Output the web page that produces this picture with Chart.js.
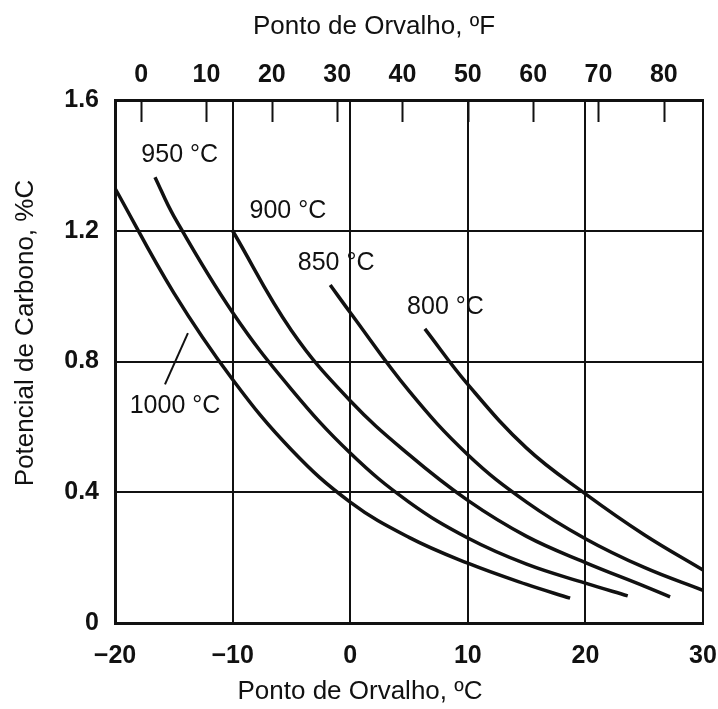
<!DOCTYPE html>
<html>
<head>
<meta charset="utf-8">
<script src="https://cdn.jsdelivr.net/npm/chart.js@4/dist/chart.umd.min.js"></script>
<style>
  body { margin: 0; background: #fff; }
  #wrap { width: 718px; height: 709px; position: relative; }
</style>
</head>
<body>
<div id="wrap"><canvas id="chart"></canvas></div>
<script>
// dew point (°C) and carbon potential (%C)
const dew1000 = [-20, -15, -10, -5, 0, 5, 10, 15, 18.7];
const cp1000 = [1.33, 1.01, 0.745, 0.53, 0.37, 0.262, 0.183, 0.118, 0.076];
const dew950 = [-16.6, -15, -10, -5, 0, 5, 10, 15, 20, 23.6];
const cp950 = [1.364, 1.245, 0.95, 0.715, 0.52, 0.37, 0.26, 0.18, 0.122, 0.083];
const dew900 = [-10, -5, 0, 5, 10, 15, 20, 25, 27.2];
const cp900 = [1.2, 0.895, 0.68, 0.515, 0.375, 0.265, 0.185, 0.113, 0.08];
const dew850 = [-1.7, 0, 5, 10, 15, 20, 25, 30];
const cp850 = [1.034, 0.95, 0.71, 0.515, 0.37, 0.258, 0.17, 0.1];
const dew800 = [6.35, 10, 15, 20, 25, 30];
const cp800 = [0.9, 0.73, 0.535, 0.395, 0.27, 0.162];

const celsiusTicks = [-20, -10, 0, 10, 20, 30];
const fahrenheitTicks = [0, 10, 20, 30, 40, 50, 60, 70, 80];
const carbonTicks = [0, 0.4, 0.8, 1.2, 1.6];

const curves = [
  { label: "1000 °C", x: dew1000, y: cp1000 },
  { label: "950 °C", x: dew950, y: cp950 },
  { label: "900 °C", x: dew900, y: cp900 },
  { label: "850 °C", x: dew850, y: cp850 },
  { label: "800 °C", x: dew800, y: cp800 },
];

const INK = "#111";
const FONT = '"Liberation Sans", Arial, sans-serif';
Chart.defaults.font.family = FONT;
Chart.defaults.color = INK;

const cToF = (c) => c * 9 / 5 + 32;

// where each curve's name sits, in chart units
const curveNotes = [
  { text: "950 °C", x: -14.5, y: 1.43 },
  { text: "900 °C", x: -5.3, y: 1.26 },
  { text: "850 °C", x: -1.2, y: 1.10 },
  { text: "800 °C", x: 8.1, y: 0.965 },
  { text: "1000 °C", x: -14.9, y: 0.665 },
];

const decor = {
  id: "decor",
  afterDraw(chart) {
    const { ctx, chartArea, scales } = chart;
    const xs = scales.x, ys = scales.y, xf = scales.x2;
    ctx.save();
    ctx.strokeStyle = INK;
    ctx.lineWidth = 2;
    // short inward ticks for the °F scale
    fahrenheitTicks.forEach((f) => {
      const px = Math.round(xf.getPixelForValue(f)) + 0.5;
      ctx.beginPath();
      ctx.moveTo(px, chartArea.top);
      ctx.lineTo(px, chartArea.top + 22);
      ctx.stroke();
    });
    // leader line to the 1000 °C curve
    ctx.beginPath();
    ctx.moveTo(xs.getPixelForValue(-13.8), ys.getPixelForValue(0.887));
    ctx.lineTo(xs.getPixelForValue(-15.75), ys.getPixelForValue(0.73));
    ctx.stroke();

    ctx.fillStyle = INK;
    ctx.textAlign = "center";
    ctx.textBaseline = "middle";
    ctx.font = "25px " + FONT;
    curveNotes.forEach((n) => {
      ctx.fillText(n.text, xs.getPixelForValue(n.x), ys.getPixelForValue(n.y));
    });

    // axis titles
    ctx.font = "26px " + FONT;
    ctx.fillText("Ponto de Orvalho, ºF", 374, 27);
    ctx.fillText("Ponto de Orvalho, ºC", 360, 692);
    ctx.translate(26, 333);
    ctx.rotate(-Math.PI / 2);
    ctx.fillText("Potencial de Carbono, %C", 0, 0);
    ctx.restore();
  },
};

const noSidePad = (s) => { s.paddingLeft = 0; s.paddingRight = 0; };

new Chart(document.getElementById("chart"), {
  type: "line",
  data: {
    datasets: curves.map((c) => ({
      label: c.label,
      data: c.x.map((v, i) => ({ x: v, y: c.y[i] })),
      borderColor: INK,
      borderWidth: 3.5,
      pointRadius: 0,
      tension: 0.4,
      fill: false,
    })),
  },
  options: {
    responsive: true,
    maintainAspectRatio: false,
    animation: false,
    layout: { padding: { left: 0, right: 15, top: 0, bottom: 0 } },
    plugins: { legend: { display: false }, tooltip: { enabled: false } },
    scales: {
      x: {
        type: "linear",
        position: "bottom",
        min: celsiusTicks[0],
        max: celsiusTicks[celsiusTicks.length - 1],
        afterBuildTicks: (s) => { s.ticks = celsiusTicks.map((v) => ({ value: v })); },
        afterFit: (s) => { s.height = 86; noSidePad(s); },
        ticks: {
          font: { size: 25, weight: "bold" },
          padding: 18,
          callback: (v) => String(v).replace("-", "\u2212"),
        },
        grid: { color: INK, lineWidth: 2, drawTicks: false },
        border: { color: INK, width: 3 },
      },
      x2: {
        type: "linear",
        position: "top",
        min: cToF(celsiusTicks[0]),
        max: cToF(celsiusTicks[celsiusTicks.length - 1]),
        afterBuildTicks: (s) => { s.ticks = fahrenheitTicks.map((v) => ({ value: v })); },
        afterFit: (s) => { s.height = 100; noSidePad(s); },
        ticks: { font: { size: 25, weight: "bold" }, padding: 10 },
        grid: { drawOnChartArea: false, drawTicks: false },
        border: { color: INK, width: 3 },
      },
      y: {
        type: "linear",
        min: 0,
        max: 1.6,
        afterBuildTicks: (s) => { s.ticks = carbonTicks.map((v) => ({ value: v })); },
        afterFit: (s) => { s.width = 115; },
        ticks: {
          font: { size: 25, weight: "bold" },
          padding: 16,
          callback: (v) => (v === 0 ? "0" : v.toFixed(1)),
        },
        grid: { color: INK, lineWidth: 2, drawTicks: false },
        border: { color: INK, width: 3 },
      },
    },
  },
  plugins: [decor],
});
</script>
</body>
</html>
